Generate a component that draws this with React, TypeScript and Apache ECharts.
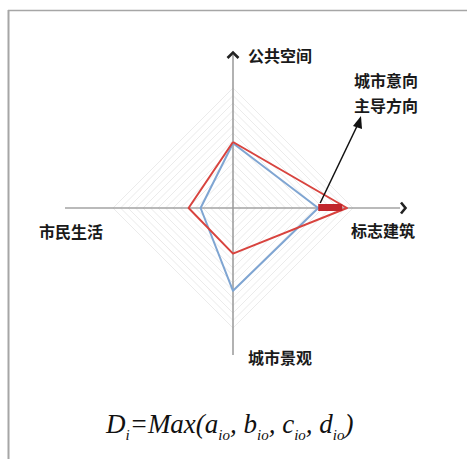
import React, { useEffect, useRef } from "react";
import * as echarts from "echarts";

// Indicators in ECharts radar order (counter-clockwise from top)
const categories = ["公共空间", "市民生活", "城市景观", "标志建筑"];
const indicatorMax = [100, 100, 100, 100];
// Series values
const redValues = [55, 37, 38, 95];
const blueValues = [54, 27, 69, 71];
// Dominant-direction bar along 标志建筑 (start, end values)
const leadBar = [71, 91];
const noteLines = ["城市意向", "主导方向"];

const CX = 233;
const CY = 208;
const R = 120;

export default function App() {
  const ref = useRef<HTMLDivElement>(null);
  useEffect(() => {
    document.body.style.margin = "0";
    const chart = echarts.init(ref.current!, null, { renderer: "svg" });
    const font = '"Noto Sans CJK SC", "Noto Sans", sans-serif';
    const valToX = (v: number, i: number) => CX + (v / indicatorMax[i]) * R;
    const labelStyle = (text: string) => ({
      text,
      fontSize: 16,
      fontWeight: "bold",
      fontFamily: font,
      fill: "#1a1a1a",
      verticalAlign: "middle",
    });
    const serif = '"Liberation Serif", "Times New Roman", serif';
    const option: any = {
      animation: false,
      backgroundColor: "#ffffff",
      radar: {
        center: [CX, CY],
        radius: R,
        startAngle: 90,
        shape: "polygon",
        splitNumber: 16,
        indicator: categories.map((name, i) => ({ name, max: indicatorMax[i] })),
        axisName: { show: false },
        axisLine: { show: false },
        axisTick: { show: false },
        axisLabel: { show: false },
        splitLine: { lineStyle: { color: "#ebebeb", width: 1 } },
        splitArea: { show: false },
      },
      series: [
        {
          type: "radar",
          symbol: "none",
          z: 5,
          data: [
            { value: blueValues, lineStyle: { color: "#7fa5d2", width: 2 } },
            { value: redValues, lineStyle: { color: "#d8433e", width: 2 } },
          ],
        },
      ],
      graphic: [
        // frame
        { type: "line", z: 1, shape: { x1: 8, y1: 10.5, x2: 467, y2: 10.5 }, style: { stroke: "#a6a6a6", lineWidth: 1.5 } },
        { type: "line", z: 1, shape: { x1: 8.5, y1: 10, x2: 8.5, y2: 459 }, style: { stroke: "#a6a6a6", lineWidth: 2 } },
        // cross axes
        { type: "line", z: 1, shape: { x1: 65, y1: CY, x2: 400, y2: CY }, style: { stroke: "#a3a3a3", lineWidth: 1.5 } },
        { type: "line", z: 1, shape: { x1: CX, y1: 55, x2: CX, y2: 355 }, style: { stroke: "#999999", lineWidth: 1.5 } },
        // arrow heads
        { type: "polyline", z: 6, shape: { points: [[227.5, 58], [CX, 52.5], [238.5, 58]] }, style: { stroke: "#222", lineWidth: 2.6, fill: null } },
        { type: "polyline", z: 6, shape: { points: [[401, 202.5], [405.5, 208], [401, 213.5]] }, style: { stroke: "#222", lineWidth: 2.6, fill: null } },
        // axis names
        { type: "text", z: 6, x: 248, y: 55, style: labelStyle(categories[0]) },
        { type: "text", z: 6, x: 39, y: 231, style: labelStyle(categories[1]) },
        { type: "text", z: 6, x: 248, y: 357, style: labelStyle(categories[2]) },
        { type: "text", z: 6, x: 351, y: 230, style: labelStyle(categories[3]) },
        // lead bar
        {
          type: "rect",
          z: 7,
          shape: { x: valToX(leadBar[0], 3), y: CY - 4, width: valToX(leadBar[1], 3) - valToX(leadBar[0], 3), height: 7 },
          style: { fill: "#c1262c" },
        },
        // annotation arrow
        { type: "line", z: 7, shape: { x1: valToX(leadBar[0], 3) + 2, y1: CY - 5, x2: 359, y2: 122 }, style: { stroke: "#111", lineWidth: 1.5 } },
        { type: "polygon", z: 7, shape: { points: [[361, 116], [353, 126], [362, 129]] }, style: { fill: "#111" } },
        { type: "text", z: 7, x: 354, y: 80, style: labelStyle(noteLines[0]) },
        { type: "text", z: 7, x: 354, y: 105, style: labelStyle(noteLines[1]) },
        // formula
        {
          type: "text",
          z: 7,
          x: 106,
          y: 410,
          style: {
            text: "{m|D}{s|i}{m|=Max(}{m|a}{s|io}{m|, b}{s|io}{m|, c}{s|io}{m|, d}{s|io}{m|)}",
            fill: "#111",
            rich: {
              m: { fontFamily: serif, fontStyle: "italic", fontSize: 27, lineHeight: 30, verticalAlign: "top", fill: "#111" },
              s: { fontFamily: serif, fontStyle: "italic", fontSize: 15, lineHeight: 15, padding: [17, 0, 0, 0], verticalAlign: "top", fill: "#111" },
            },
          },
        },
      ],
    };
    chart.setOption(option);
    return () => chart.dispose();
  }, []);
  return <div ref={ref} style={{ position: "absolute", left: 0, top: 0, width: 467, height: 459 }} />;
}
